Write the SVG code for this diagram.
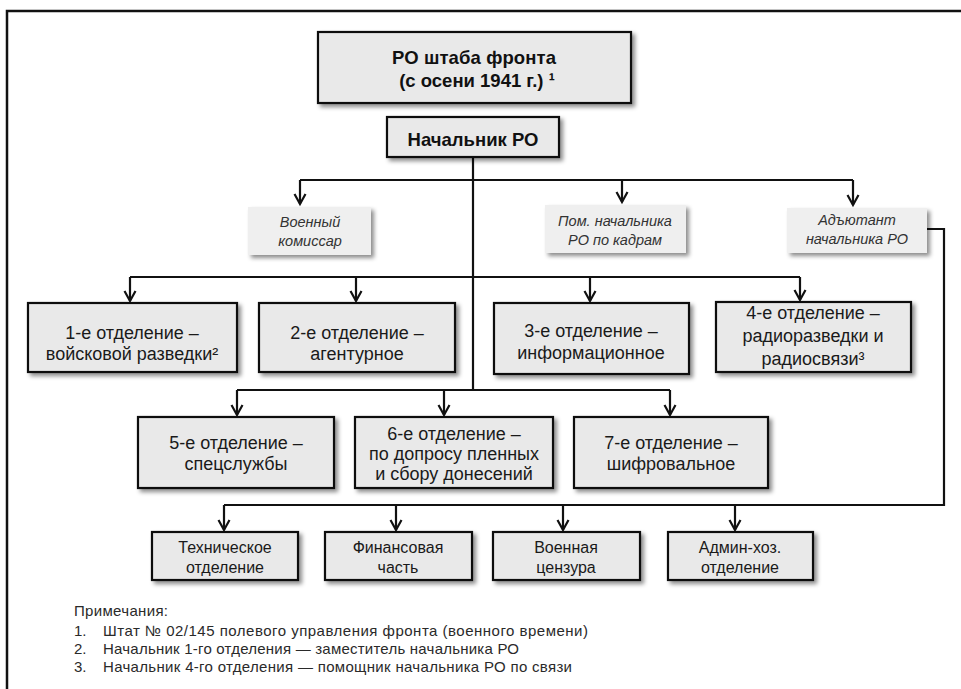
<svg xmlns="http://www.w3.org/2000/svg" width="961" height="689" viewBox="0 0 961 689">
<style>
  .box{fill:#e9e9e9;stroke:#111;stroke-width:2.2;filter:url(#sh)}
  .ibox{fill:#efefef;stroke:none;filter:url(#sh)}
  .t{font-family:"Liberation Sans",Arial,sans-serif;font-size:18px;fill:#1a1a1a;text-anchor:middle}
  .b{font-family:"Liberation Sans",Arial,sans-serif;font-size:18.5px;font-weight:bold;fill:#111;text-anchor:middle}
  .i{font-family:"Liberation Sans",Arial,sans-serif;font-size:14.5px;font-style:italic;fill:#333;text-anchor:middle}
  .s{font-family:"Liberation Sans",Arial,sans-serif;font-size:16px;fill:#1a1a1a;text-anchor:middle}
  .n{font-family:"Liberation Sans",Arial,sans-serif;font-size:15px;fill:#2a2a2a}
  .c{fill:none;stroke:#111;stroke-width:2.2}
  .a{fill:none;stroke:#111;stroke-width:2.2;marker-end:url(#ar)}
</style>
<defs>
  <filter id="sh" x="-10%" y="-10%" width="130%" height="140%">
    <feDropShadow dx="3" dy="3" stdDeviation="2" flood-color="#000" flood-opacity="0.45"/>
  </filter>
  <marker id="ar" viewBox="0 0 12 12" refX="10" refY="6" markerWidth="12" markerHeight="12" markerUnits="userSpaceOnUse" orient="auto" overflow="visible">
    <path d="M0,0.5 L10,6 L0,11.5" fill="none" stroke="#111" stroke-width="2.2"/>
  </marker>
</defs>
<rect width="961" height="689" fill="#fff"/>
<path d="M7,689 V11 H961" fill="none" stroke="#111" stroke-width="2.5"/>

<g id="connectors">
  <path class="c" d="M473,157 V390"/>
  <path class="c" d="M300,180 H853"/>
  <path class="a" d="M300,180 V204"/>
  <path class="a" d="M622,180 V202"/>
  <path class="a" d="M853,180 V205"/>
  <path class="c" d="M130,277 H800"/>
  <path class="a" d="M130,277 V301"/>
  <path class="a" d="M356,277 V301"/>
  <path class="a" d="M590,277 V301"/>
  <path class="a" d="M800,277 V300"/>
  <path class="c" d="M237,390 H670"/>
  <path class="a" d="M237,390 V415"/>
  <path class="a" d="M444,390 V415"/>
  <path class="a" d="M670,390 V415"/>
  <path class="c" d="M927,229 H944 V505 H224"/>
  <path class="a" d="M224,505 V530"/>
  <path class="a" d="M396,505 V530"/>
  <path class="a" d="M563,505 V530"/>
  <path class="a" d="M735,505 V530"/>
</g>

<g id="top">
  <rect class="box" x="318" y="32" width="313" height="71"/>
  <text class="b" x="474" y="64" textLength="164">РО штаба фронта</text>
  <text class="b" x="477" y="87">(с осени 1941 г.) ¹</text>
</g>
<g id="chief">
  <rect class="box" x="387" y="117" width="172" height="40"/>
  <text class="b" x="473" y="146">Начальник РО</text>
</g>
<g id="commissar">
  <rect class="ibox" x="248" y="207" width="123" height="48"/>
  <text class="i" x="310" y="227">Военный</text>
  <text class="i" x="310" y="246">комиссар</text>
</g>
<g id="pom">
  <rect class="ibox" x="545" y="205" width="141" height="48"/>
  <text class="i" x="615" y="226">Пом. начальника</text>
  <text class="i" x="615" y="245">РО по кадрам</text>
</g>
<g id="adjutant">
  <rect class="ibox" x="787" y="208" width="140" height="45"/>
  <text class="i" x="857" y="225">Адъютант</text>
  <text class="i" x="857" y="244">начальника РО</text>
</g>

<g id="d1">
  <rect class="box" x="28" y="303" width="209" height="69"/>
  <text class="t" x="132" y="339">1-е отделение –</text>
  <text class="t" x="132" y="360">войсковой разведки²</text>
</g>
<g id="d2">
  <rect class="box" x="259" y="303" width="196" height="69"/>
  <text class="t" x="357" y="339">2-е отделение –</text>
  <text class="t" x="357" y="360">агентурное</text>
</g>
<g id="d3">
  <rect class="box" x="494" y="303" width="195" height="71"/>
  <text class="t" x="591" y="337">3-е отделение –</text>
  <text class="t" x="591" y="359">информационное</text>
</g>
<g id="d4">
  <rect class="box" x="716" y="302" width="195" height="70"/>
  <text class="t" x="813" y="319">4-е отделение –</text>
  <text class="t" x="813" y="342">радиоразведки и</text>
  <text class="t" x="813" y="365">радиосвязи³</text>
</g>
<g id="d5">
  <rect class="box" x="138" y="417" width="196" height="71"/>
  <text class="t" x="236" y="449">5-е отделение –</text>
  <text class="t" x="236" y="470">спецслужбы</text>
</g>
<g id="d6">
  <rect class="box" x="355" y="417" width="198" height="71"/>
  <text class="t" x="454" y="440">6-е отделение –</text>
  <text class="t" x="454" y="460">по допросу пленных</text>
  <text class="t" x="454" y="480">и сбору донесений</text>
</g>
<g id="d7">
  <rect class="box" x="574" y="417" width="194" height="71"/>
  <text class="t" x="671" y="449">7-е отделение –</text>
  <text class="t" x="671" y="470">шифровальное</text>
</g>

<g id="tech">
  <rect class="box" x="152" y="532" width="146" height="48"/>
  <text class="s" x="225" y="553">Техническое</text>
  <text class="s" x="225" y="573">отделение</text>
</g>
<g id="fin">
  <rect class="box" x="325" y="532" width="147" height="48"/>
  <text class="s" x="398" y="553">Финансовая</text>
  <text class="s" x="398" y="573">часть</text>
</g>
<g id="censor">
  <rect class="box" x="493" y="532" width="147" height="48"/>
  <text class="s" x="566" y="553">Военная</text>
  <text class="s" x="566" y="573">цензура</text>
</g>
<g id="admin">
  <rect class="box" x="668" y="532" width="145" height="48"/>
  <text class="s" x="740" y="553">Админ-хоз.</text>
  <text class="s" x="740" y="573">отделение</text>
</g>

<g id="notes">
  <text class="n" x="74" y="616" textLength="94">Примечания:</text>
  <text class="n" x="74" y="636">1.</text>
  <text class="n" x="103" y="636" textLength="485">Штат № 02/145 полевого управления фронта (военного времени)</text>
  <text class="n" x="74" y="654">2.</text>
  <text class="n" x="103" y="654" textLength="416">Начальник 1-го отделения — заместитель начальника РО</text>
  <text class="n" x="74" y="672">3.</text>
  <text class="n" x="103" y="672" textLength="469">Начальник 4-го отделения — помощник начальника РО по связи</text>
</g>
</svg>
